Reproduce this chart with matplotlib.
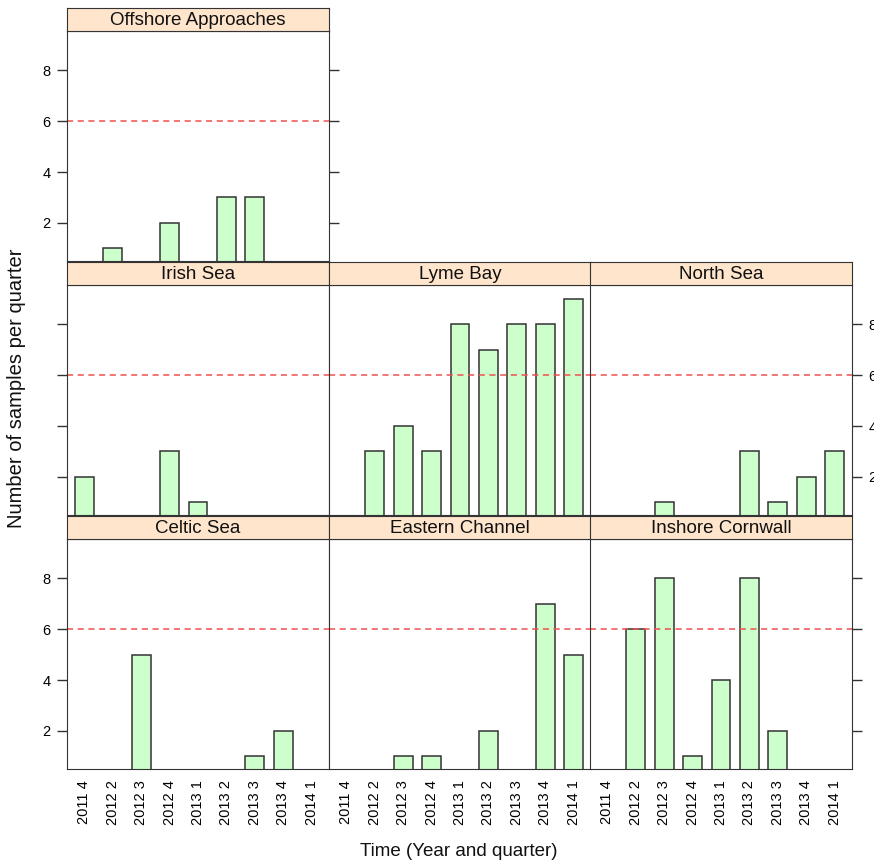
import numpy as np
import matplotlib
matplotlib.use("Agg")
import matplotlib.pyplot as plt

plt.rcParams['font.family'] = ['Liberation Sans', 'DejaVu Sans']

# Quarters on the x axis
quarters = ["2011 4", "2012 2", "2012 3", "2012 4", "2013 1",
            "2013 2", "2013 3", "2013 4", "2014 1"]

# Samples per quarter, one list per area
offshore_approaches = [0, 1, 0, 2, 0, 3, 3, 0, 0]
irish_sea = [2, 0, 0, 3, 1, 0, 0, 0, 0]
lyme_bay = [0, 3, 4, 3, 8, 7, 8, 8, 9]
north_sea = [0, 0, 1, 0, 0, 3, 1, 2, 3]
celtic_sea = [0, 0, 5, 0, 0, 0, 1, 2, 0]
eastern_channel = [0, 0, 1, 1, 0, 2, 0, 7, 5]
inshore_cornwall = [0, 6, 8, 1, 4, 8, 2, 0, 0]

target = 6

# (name, values, row, col) - row 0 is the top
panels = [
    ("Offshore Approaches", offshore_approaches, 0, 0),
    ("Irish Sea", irish_sea, 1, 0),
    ("Lyme Bay", lyme_bay, 1, 1),
    ("North Sea", north_sea, 1, 2),
    ("Celtic Sea", celtic_sea, 2, 0),
    ("Eastern Channel", eastern_channel, 2, 1),
    ("Inshore Cornwall", inshore_cornwall, 2, 2),
]

W, H = 874, 861
fig = plt.figure(figsize=(W / 100, H / 100), dpi=100)

col_x = [67, 329, 590]
col_w = 262
row_top = [8, 262, 516]   # top of strip, pixels
strip_h = 23
panel_h = 230

edge = "#333333"
x = np.arange(1, len(quarters) + 1)

for name, vals, r, c in panels:
    x0 = col_x[c]
    y_strip = row_top[r]
    y_panel = y_strip + strip_h
    ax = fig.add_axes([x0 / W, 1 - (y_panel + panel_h) / H, col_w / W, panel_h / H])
    sax = fig.add_axes([x0 / W, 1 - (y_strip + strip_h) / H, col_w / W, strip_h / H])

    # strip
    sax.set_facecolor("#ffe5cc")
    sax.set_xticks([])
    sax.set_yticks([])
    for s in sax.spines.values():
        s.set_color(edge)
    sax.text(0.5, 0.47, name, ha="center", va="center", fontsize=13.5,
             color="#111111", transform=sax.transAxes)

    # bars
    ax.bar(x, vals, width=0.667, color="#ccffcc", edgecolor=edge, linewidth=1.1)
    ax.axhline(target, color="#f05050", linestyle=(0, (4, 3)), linewidth=1.1)
    ax.set_xlim(0.4, len(quarters) + 0.6)
    ax.set_ylim(0.5, 9.55)
    for s in ax.spines.values():
        s.set_color(edge)

    ax.set_yticks([2, 4, 6, 8])
    ax.tick_params(axis="y", direction="out", length=7.2, width=1, color=edge,
                   labelsize=10.5, pad=4.5, left=False, right=False,
                   labelleft=False, labelright=False)
    if c == 0:
        ax.tick_params(axis="y", left=True, labelleft=(r != 1))
    if (r == 0 and c == 0) or c == 2:
        ax.tick_params(axis="y", right=True, labelright=(r == 1))

    ax.set_xticks(x)
    if r == 2:
        ax.set_xticklabels(quarters, rotation=90)
        ax.tick_params(axis="x", length=0, pad=8, labelsize=10.5)
    else:
        ax.tick_params(axis="x", bottom=False, labelbottom=False)

fig.text(17 / W, 1 - 388 / H, "Number of samples per quarter", rotation=90,
         ha="center", va="center", fontsize=14.5, color="#111111")
fig.text(459 / W, 1 - 851 / H, "Time (Year and quarter)",
         ha="center", va="center", fontsize=13.5, color="#111111")

fig.savefig("out.png", dpi=100)
